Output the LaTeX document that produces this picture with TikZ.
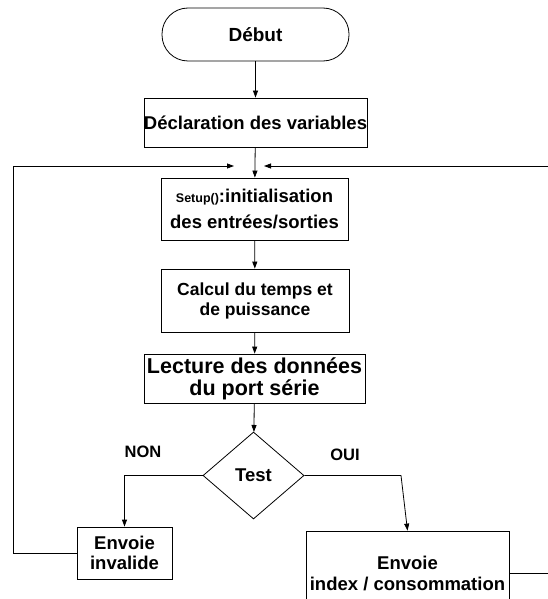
\documentclass[tikz,border=0pt]{standalone}
\usepackage{fontspec}
\setmainfont{Liberation Sans}
\usetikzlibrary{shapes.geometric,arrows.meta}
\begin{document}
\begin{tikzpicture}[x=1pt,y=-1pt,
  box/.style={draw,line width=0.8pt,inner sep=0pt,align=center,font=\bfseries\fontsize{18.5}{20}\selectfont},
  arr/.style={line width=0.8pt,-{Triangle[length=7pt,width=5pt]}},
  ln/.style={line width=0.8pt},
  lbl/.style={font=\bfseries\fontsize{16.5}{18}\selectfont}]
\useasboundingbox (0,0) rectangle (547,599);
\node[box,rounded corners=26pt,minimum width=187pt,minimum height=53pt,font=\bfseries\fontsize{19}{20}\selectfont] (debut) at (255.5,34.5) {Début};
\node[box,minimum width=221pt,minimum height=49pt] (decl) at (255.5,122.5) {Déclaration des variables};
\node[box,minimum width=187pt,minimum height=62pt,font=\bfseries\fontsize{18.5}{26}\selectfont] (setup) at (254.5,209) {{\fontsize{12.5}{13}\selectfont Setup()}:initialisation\\des entrées/sorties};
\node[box,minimum width=188pt,minimum height=63pt,font=\bfseries\fontsize{17.5}{20}\selectfont] (calc) at (255,300.5) {Calcul du temps et\\de puissance};
\node[box,minimum width=221pt,minimum height=49pt,font=\bfseries\fontsize{21.5}{22}\selectfont] (lect) at (254.5,378.5) {Lecture des données\\du port série};
\node[box,shape=diamond,minimum width=101pt,minimum height=87pt,font=\bfseries\fontsize{18.5}{20}\selectfont] (test) at (253.5,475.5) {Test};
\node[box,minimum width=95pt,minimum height=52pt,font=\bfseries\fontsize{18.5}{20}\selectfont] (inv) at (124.5,553) {Envoie\\invalide};
\node[box,minimum width=203pt,minimum height=84pt,font=\bfseries\fontsize{18.5}{21}\selectfont] (env) at (407.5,573) {Envoie\\index / consommation};
\node[lbl] (non) at (143,452) {NON};
\node[lbl] (oui) at (345,455) {OUI};
\coordinate (jl) at (234,166);
\coordinate (jr) at (264,166);
\draw[arr] (debut) -- (decl);
\draw[arr] (decl) -- (setup);
\draw[arr] (setup) -- (calc);
\draw[arr] (calc) -- (lect);
\draw[arr] (lect) -- (test);
\draw[arr] (test.west) -| (inv.north);
\draw[arr] (test.east) -- (401,475.5) -- (env.north);
\draw[arr] (inv.west) -- (13,553) -- (13,166) -- (jl);
\draw[arr] (env.east) -- (550,573) -- (550,166) -- (jr);
\end{tikzpicture}
\end{document}
